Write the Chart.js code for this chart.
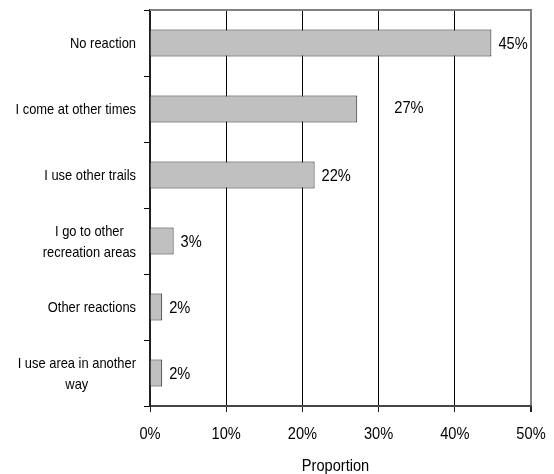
<!DOCTYPE html>
<html>
<head>
<meta charset="utf-8">
<script src="https://cdn.jsdelivr.net/npm/chart.js@4/dist/chart.umd.min.js"></script>
<style>
  html, body { margin: 0; padding: 0; background: #ffffff; }
  #wrap { width: 554px; height: 474px; }
</style>
</head>
<body>
<div id="wrap"><canvas id="c" width="554" height="474"></canvas></div>
<script>
// ---- data ----
const categories = [
  'No reaction',
  'I come at other times',
  'I use other trails',
  ['I go to other', 'recreation areas'],
  'Other reactions',
  ['I use area in another', 'way']
];
const proportions = [44.8, 27.2, 21.6, 3.1, 1.6, 1.6];
const axisTicks = [0, 10, 20, 30, 40, 50];
const axisTitle = 'Proportion';

// Narrow Arial-like text (no narrow face installed, so squeeze Liberation Sans)
const FONT = "'Liberation Sans', Arial, sans-serif";
const SQUEEZE = 0.86;
function narrowWidth(ctx, text, size) {
  ctx.save();
  ctx.font = size + 'px ' + FONT;
  const w = ctx.measureText(text).width * SQUEEZE;
  ctx.restore();
  return w;
}
function narrowText(ctx, text, x, y, align, size) {
  ctx.save();
  ctx.translate(x, y);
  ctx.scale(SQUEEZE, 1);
  ctx.font = size + 'px ' + FONT;
  ctx.fillStyle = '#000';
  ctx.textAlign = align;
  ctx.textBaseline = 'alphabetic';
  ctx.fillText(text, 0, 0);
  ctx.restore();
}

const labelPlugin = {
  id: 'narrowLabels',
  afterDatasetsDraw(chart) {
    const ctx = chart.ctx;
    const meta = chart.getDatasetMeta(0);
    const gaps = [7, 37, 7, 7, 7, 7];
    const lifts = [0, -2, 0, 0, 0, 0];
    meta.data.forEach((bar, i) => {
      narrowText(ctx, Math.round(proportions[i]) + '%', bar.x + gaps[i], bar.y + 6 + lifts[i], 'left', 17);
    });
  },
  afterDraw(chart) {
    const {ctx, chartArea, scales} = chart;
    // top border of plot area
    ctx.save();
    ctx.strokeStyle = '#808080';
    ctx.lineWidth = 2;
    ctx.beginPath();
    ctx.moveTo(chartArea.left, chartArea.top);
    ctx.lineTo(chartArea.right + 1, chartArea.top);
    ctx.stroke();
    ctx.restore();
    // x tick labels
    axisTicks.forEach(v => {
      narrowText(ctx, v + '%', scales.x.getPixelForValue(v), chartArea.bottom + 33, 'center', 17);
    });
    // axis title
    narrowText(ctx, axisTitle, (chartArea.left + chartArea.right) / 2 - 5, chartArea.bottom + 65, 'center', 17);
    // category labels: block right-aligned, lines centred within the block
    const rightEdge = chartArea.left - 14;
    categories.forEach((lab, i) => {
      const lines = Array.isArray(lab) ? lab : [lab];
      const cy = scales.y.getPixelForValue(i);
      const blockW = Math.max(...lines.map(l => narrowWidth(ctx, l, 15)));
      lines.forEach((line, k) => {
        const y = cy + 5.4 + (k - (lines.length - 1) / 2) * 21;
        if (lines.length === 1) {
          narrowText(ctx, line, rightEdge, y, 'right', 15);
        } else {
          narrowText(ctx, line, rightEdge - blockW / 2, y, 'center', 15);
        }
      });
    });
  }
};

new Chart(document.getElementById('c'), {
  type: 'bar',
  data: {
    labels: categories,
    datasets: [{
      data: proportions,
      backgroundColor: '#c0c0c0',
      borderColor: '#202020',
      borderWidth: 1,
      categoryPercentage: 1,
      barPercentage: 0.41
    }]
  },
  options: {
    indexAxis: 'y',
    responsive: false,
    animation: false,
    devicePixelRatio: 1,
    layout: { padding: { top: 10, right: 23, left: 0, bottom: 0 } },
    plugins: { legend: { display: false }, tooltip: { enabled: false } },
    scales: {
      x: {
        min: axisTicks[0],
        max: axisTicks[axisTicks.length - 1],
        afterBuildTicks(scale) { scale.ticks = axisTicks.map(v => ({ value: v })); },
        afterFit(scale) {
          scale.height = 68;
          scale.paddingLeft = 0; scale.paddingRight = 0;
        },
        ticks: { display: false },
        grid: {
          color: c => (c.tick && c.tick.value === 50) ? '#808080' : '#000',
          lineWidth: c => (c.tick && c.tick.value === 50) ? 2 : 1,
          tickColor: '#202020',
          tickLength: 6,
          drawTicks: true
        },
        border: { color: '#454545', width: 2 }
      },
      y: {
        afterFit(scale) {
          scale.width = 150;
          scale.paddingTop = 0; scale.paddingBottom = 0;
        },
        ticks: { display: false, autoSkip: false },
        grid: {
          offset: true,
          drawOnChartArea: false,
          drawTicks: true,
          tickLength: 6,
          color: '#000'
        },
        border: { color: '#202020', width: 2 }
      }
    }
  },
  plugins: [labelPlugin]
});
</script>
</body>
</html>
